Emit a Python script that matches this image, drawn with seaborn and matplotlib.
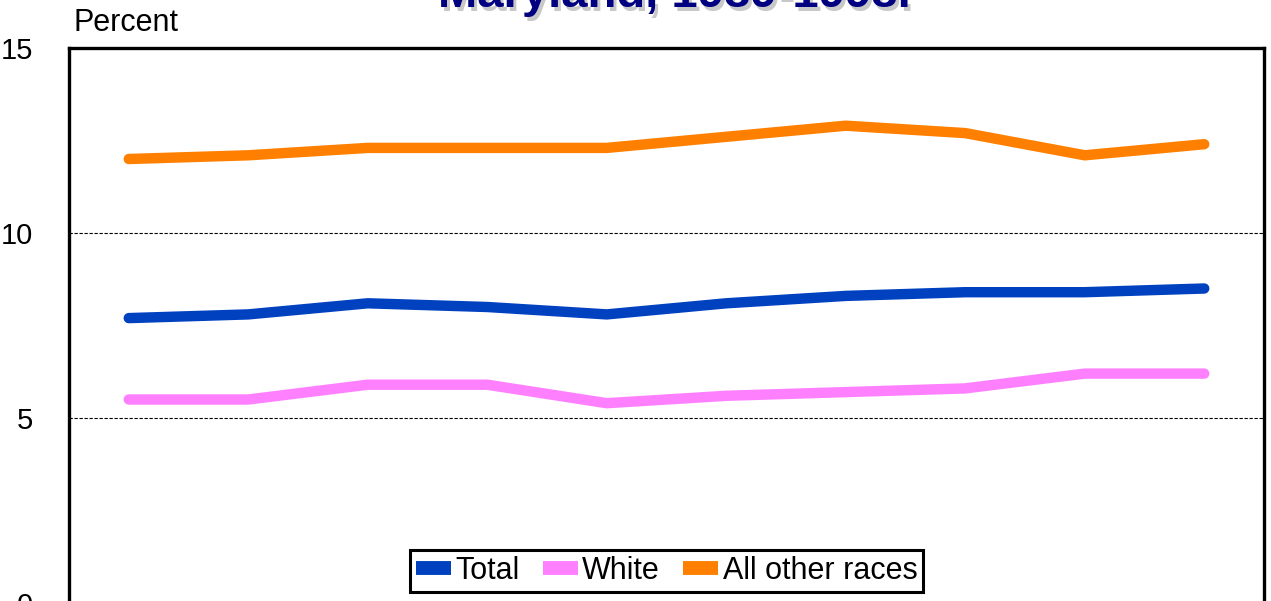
import matplotlib
import numpy as np
import pandas as pd
import seaborn as sns
from matplotlib import pyplot as plt
from matplotlib.lines import Line2D

matplotlib.use("Agg")

years = [1989, 1990, 1991, 1992, 1993, 1994, 1995, 1996, 1997, 1998]
total = [7.7, 7.8, 8.1, 8.0, 7.8, 8.1, 8.3, 8.4, 8.4, 8.5]
white = [5.5, 5.5, 5.9, 5.9, 5.4, 5.6, 5.7, 5.8, 6.2, 6.2]
other = [12.0, 12.1, 12.3, 12.3, 12.3, 12.6, 12.9, 12.7, 12.1, 12.4]

series_names = ["Total", "White", "All other races"]
colors = ["#0041C0", "#FF80FF", "#FF8000"]
title_text = "Maryland, 1989-1998."

df = pd.DataFrame(
    {
        "pos": list(range(len(years))) * 3,
        "year": years * 3,
        "value": total + white + other,
        "series": sum([[name] * len(years) for name in series_names], []),
    }
)

sns.set_theme(style="white")
plt.rcParams["font.family"] = ["Liberation Sans", "DejaVu Sans"]
plt.rcParams["text.color"] = "black"
plt.rcParams["xtick.color"] = "black"
plt.rcParams["ytick.color"] = "black"

fig = plt.figure(figsize=(12.71, 6.01), dpi=100)
ax = fig.add_axes([69 / 1271, 1 - 603 / 601, 1195 / 1271, 555 / 601])

sns.lineplot(
    data=df,
    x="pos",
    y="value",
    hue="series",
    hue_order=series_names,
    palette=colors,
    linewidth=7.5,
    legend=False,
    ax=ax,
    solid_capstyle="round",
    solid_joinstyle="round",
)

ax.set_xlim(-0.5, len(years) - 0.5)
ax.set_ylim(0, 15)
ax.set_yticks([0, 5, 10, 15])
ax.set_xticks(range(len(years)))
# year labels sit below the visible area, as in the source picture
ax.set_xticklabels([])
ax.tick_params(axis="y", labelsize=21, pad=26, length=0, labelcolor="black")
ax.tick_params(axis="x", length=0)
ax.set_xlabel("")
ax.set_ylabel("")
for y in [5, 10]:
    ax.axhline(y, color="black", linestyle=(0, (3, 1.5)), linewidth=0.8, zorder=0)
for spine in ax.spines.values():
    spine.set_color("black")
    spine.set_linewidth(2.4)

handles = [Line2D([0], [0], color=c, linewidth=10, solid_capstyle="butt") for c in colors]
leg = ax.legend(
    handles,
    series_names,
    loc="lower center",
    bbox_to_anchor=(0.5, 0.02),
    borderaxespad=0,
    ncol=3,
    fontsize=22,
    frameon=True,
    fancybox=False,
    handlelength=1.15,
    handletextpad=0.15,
    columnspacing=0.75,
    borderpad=0.2,
)
leg.get_frame().set_edgecolor("black")
leg.get_frame().set_linewidth(2.2)
leg.get_frame().set_alpha(1)
for t in leg.get_texts():
    t.set_color("black")

fig.text(73 / 1271, 1 - 31 / 601, "Percent", fontsize=22, va="baseline", ha="left", color="black")

# title, mostly above the visible area, with a grey drop shadow
fig.text(677 / 1271, 1 - 11 / 601, title_text, fontsize=34, fontweight="bold",
         color="#C8C8C8", ha="center", va="baseline")
fig.text(674 / 1271, 1 - 7 / 601, title_text, fontsize=34, fontweight="bold",
         color="#000080", ha="center", va="baseline")

fig.savefig("out.png", dpi=100)
